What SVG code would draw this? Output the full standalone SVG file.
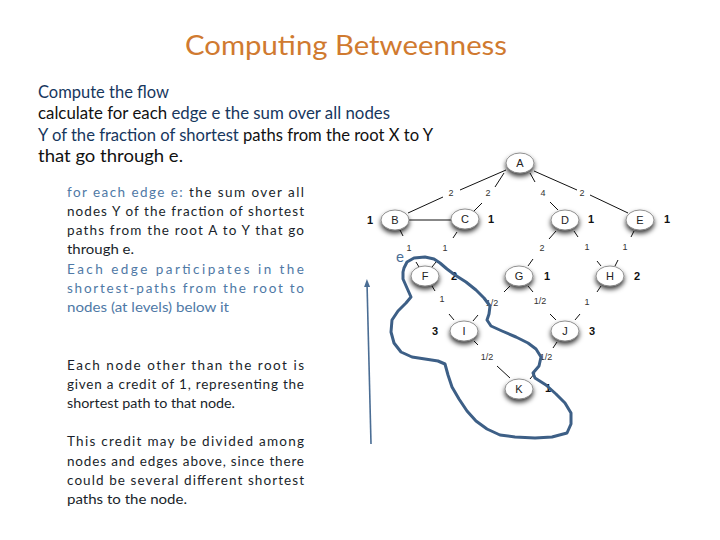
<svg xmlns="http://www.w3.org/2000/svg" width="720" height="540" viewBox="0 0 720 540">
<defs>
<style>
.title{font-family:Lato,"Open Sans",sans-serif;font-size:27px;fill:#d07a30}
.p1{font-family:Lato,"Open Sans",sans-serif;font-size:16.5px;fill:#111}
.p2{font-family:Lato,"Open Sans",sans-serif;font-size:13.5px;fill:#1a1f2b}
.nv{fill:#17375e}
.bl{fill:#4f79a6}
.node ellipse{fill:#fff;stroke:#777;stroke-width:0.8;filter:url(#sh)}
.node text{font-family:"Liberation Sans",Arial,sans-serif;font-size:11px;fill:#222;text-anchor:middle}
.val{font-family:"Liberation Sans",Arial,sans-serif;font-size:11px;font-weight:bold;fill:#111;text-anchor:middle}
.el{font-family:"Liberation Sans",Arial,sans-serif;font-size:9px;fill:#333;text-anchor:middle}
.edge line{stroke:#111;stroke-width:1}
</style>
<filter id="sh" x="-60%" y="-60%" width="220%" height="240%">
<feDropShadow dx="0" dy="3" stdDeviation="2.8" flood-color="#000" flood-opacity="0.8"/>
</filter>
<marker id="ah" markerWidth="8" markerHeight="8" refX="4" refY="4" orient="auto" markerUnits="userSpaceOnUse">
<path d="M0,1 L8,4 L0,7 Z" fill="#4a6d94"/>
</marker>
</defs>
<rect width="720" height="540" fill="#fff"/>

<text class="title" x="185" y="55" textLength="322" lengthAdjust="spacingAndGlyphs">Computing Betweenness</text>

<g id="intro">
<text class="p1" x="38" y="98" textLength="131" lengthAdjust="spacingAndGlyphs"><tspan class="nv">Compute the flow</tspan></text>
<text class="p1" x="38" y="119" textLength="352" lengthAdjust="spacingAndGlyphs">calculate for each <tspan class="nv">edge e the sum over all nodes</tspan></text>
<text class="p1" x="38" y="141" textLength="395" lengthAdjust="spacingAndGlyphs"><tspan class="nv">Y of the fraction of shortest </tspan>paths from the root X to Y</text>
<text class="p1" x="38" y="162" textLength="145" lengthAdjust="spacingAndGlyphs">that go through e.</text>
</g>

<g id="para2">
<text class="p2" x="67" y="197" textLength="237" lengthAdjust="spacing"><tspan class="bl">for each edge e: </tspan>the sum over all</text>
<text class="p2" x="67" y="216" textLength="237" lengthAdjust="spacing">nodes Y of the fraction of shortest</text>
<text class="p2" x="67" y="235" textLength="237" lengthAdjust="spacing">paths from the root A to Y that go</text>
<text class="p2" x="67" y="254" textLength="67" lengthAdjust="spacingAndGlyphs">through e.</text>
<text class="p2 bl" x="67" y="274" textLength="237" lengthAdjust="spacing">Each edge participates in the</text>
<text class="p2 bl" x="67" y="293" textLength="237" lengthAdjust="spacing">shortest-paths from the root to</text>
<text class="p2 bl" x="67" y="312" textLength="162" lengthAdjust="spacingAndGlyphs">nodes (at levels) below it</text>
</g>

<g id="para3">
<text class="p2" x="67" y="370" textLength="237" lengthAdjust="spacing">Each node other than the root is</text>
<text class="p2" x="67" y="389" textLength="237" lengthAdjust="spacing">given a credit of 1, representing the</text>
<text class="p2" x="67" y="408" textLength="168" lengthAdjust="spacingAndGlyphs">shortest path to that node.</text>
</g>

<g id="para4">
<text class="p2" x="67" y="446" textLength="237" lengthAdjust="spacing">This credit may be divided among</text>
<text class="p2" x="67" y="466" textLength="237" lengthAdjust="spacing">nodes and edges above, since there</text>
<text class="p2" x="67" y="485" textLength="237" lengthAdjust="spacing">could be several different shortest</text>
<text class="p2" x="67" y="504" textLength="120" lengthAdjust="spacingAndGlyphs">paths to the node.</text>
</g>

<g id="connectors" class="edge">
<line x1="506" y1="170" x2="460" y2="190"/><line x1="443" y1="197" x2="408" y2="213"/>
<line x1="504" y1="173" x2="495" y2="187"/><line x1="482" y1="203" x2="473" y2="212"/>
<line x1="530" y1="173" x2="535" y2="182"/><line x1="550" y1="202" x2="558" y2="210"/>
<line x1="534" y1="171" x2="577" y2="190"/><line x1="590" y1="195" x2="628" y2="213"/>
<line x1="409" y1="220" x2="451" y2="220"/>
<line x1="400" y1="230" x2="403" y2="236"/><line x1="416" y1="262" x2="419" y2="267"/>
<line x1="457" y1="232" x2="453" y2="238"/><line x1="436" y1="262" x2="432" y2="267"/>
<line x1="556" y1="231" x2="549" y2="239"/><line x1="533" y1="259" x2="528" y2="266"/>
<line x1="574" y1="231" x2="578" y2="237"/><line x1="597" y1="261" x2="601" y2="266"/>
<line x1="634" y1="231" x2="631" y2="237"/><line x1="618" y1="260" x2="615" y2="266"/>
<line x1="432" y1="286" x2="435" y2="291"/><line x1="449" y1="314" x2="454" y2="320"/>
<line x1="510" y1="286" x2="504" y2="292"/><line x1="478" y1="315" x2="473" y2="321"/>
<line x1="528" y1="286" x2="533" y2="292"/><line x1="550" y1="314" x2="556" y2="320"/>
<line x1="601" y1="286" x2="597" y2="292"/><line x1="580" y1="314" x2="575" y2="320"/>
<line x1="474" y1="341" x2="478" y2="345"/><line x1="497" y1="366" x2="510" y2="378"/>
<line x1="557" y1="342" x2="553" y2="348"/><line x1="535" y1="373" x2="530" y2="379"/>
</g>

<g id="edge-labels">
<text class="el" x="451" y="196">2</text>
<text class="el" x="488" y="196">2</text>
<text class="el" x="543" y="196">4</text>
<text class="el" x="582" y="196">2</text>
<text class="el" x="409" y="251">1</text>
<text class="el" x="445" y="251">1</text>
<text class="el" x="542" y="251">2</text>
<text class="el" x="587" y="250">1</text>
<text class="el" x="625" y="250">1</text>
<text class="el" x="442" y="302">1</text>
<text class="el" x="492" y="306">1/2</text>
<text class="el" x="540" y="304">1/2</text>
<text class="el" x="587" y="305">1</text>
<text class="el" x="487" y="360">1/2</text>
<text class="el" x="546" y="360">1/2</text>
</g>

<g id="node-A" class="node"><ellipse cx="520" cy="163" rx="14" ry="10"/><text x="520" y="167">A</text></g>
<g id="node-B" class="node"><ellipse cx="395" cy="220" rx="14" ry="10"/><text x="395" y="224">B</text></g>
<g id="node-C" class="node"><ellipse cx="465" cy="219" rx="14" ry="10"/><text x="465" y="223">C</text></g>
<g id="node-D" class="node"><ellipse cx="565" cy="220" rx="14" ry="10"/><text x="565" y="224">D</text></g>
<g id="node-E" class="node"><ellipse cx="640" cy="220" rx="14" ry="10"/><text x="640" y="224">E</text></g>
<g id="node-F" class="node"><ellipse cx="425" cy="276" rx="14" ry="10"/><text x="425" y="280">F</text></g>
<g id="node-G" class="node"><ellipse cx="519" cy="276" rx="14" ry="10"/><text x="519" y="280">G</text></g>
<g id="node-H" class="node"><ellipse cx="610" cy="276" rx="14" ry="10"/><text x="610" y="280">H</text></g>
<g id="node-I" class="node"><ellipse cx="464" cy="331" rx="14" ry="10"/><text x="464" y="335">I</text></g>
<g id="node-J" class="node"><ellipse cx="565" cy="331" rx="14" ry="10"/><text x="565" y="335">J</text></g>
<g id="node-K" class="node"><ellipse cx="519" cy="389" rx="14" ry="10"/><text x="519" y="393">K</text></g>

<g id="node-values">
<text class="val" x="370" y="224">1</text>
<text class="val" x="491" y="223">1</text>
<text class="val" x="591" y="223">1</text>
<text class="val" x="667" y="223">1</text>
<text class="val" x="454" y="280">2</text>
<text class="val" x="547" y="280">1</text>
<text class="val" x="637" y="280">2</text>
<text class="val" x="435" y="335">3</text>
<text class="val" x="592" y="335">3</text>
<text class="val" x="548" y="392">1</text>
</g>

<g id="annotation">
<line x1="371" y1="444" x2="367" y2="283" stroke="#4a6d94" stroke-width="1.6" marker-end="url(#ah)"/>
<text x="400" y="262" font-family="Lato,'Open Sans',sans-serif" font-size="15" fill="#4a6e96" text-anchor="middle">e</text>
<polyline fill="none" stroke="#3d5f86" stroke-width="3" stroke-linejoin="round" stroke-linecap="round" points="404,268 407,262 414,258 425,257 434,259 440,263 447,269 455,275 466,282 476,290 484,298 490,306 489,314 487,320 491,326 502,331 516,337 528,343 536,349 541,357 539,366 533,373 535,378 546,385 556,394 565,403 571,413 571,424 567,433 552,437 535,438 515,437 500,435 487,429 476,421 467,411 459,399 452,387 448,375 445,364 438,361 425,359 412,357 401,352 394,343 391,332 392,320 398,311 406,303 411,297 407,288 403,279 403,272 404,268"/>
</g>
</svg>
